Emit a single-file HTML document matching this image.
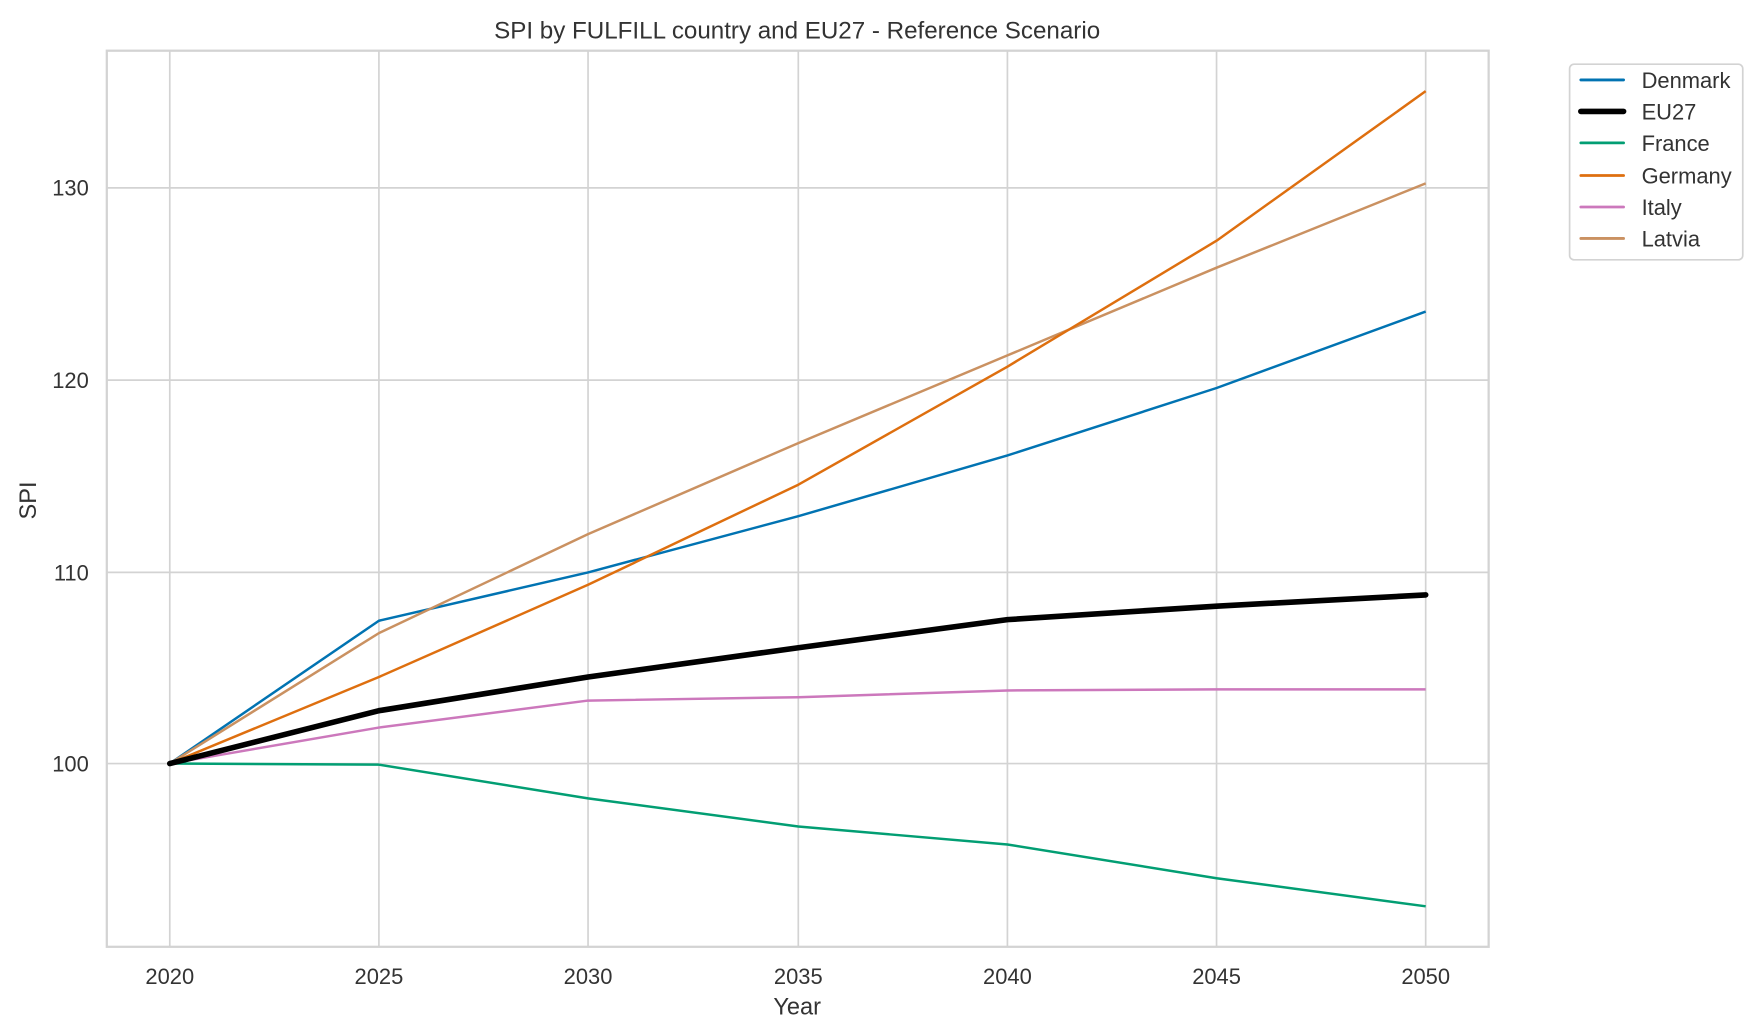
<!DOCTYPE html>
<html><head><meta charset="utf-8"><style>html,body{margin:0;padding:0;background:#fff;width:1754px;height:1020px;overflow:hidden}</style></head>
<body>
<svg width="1754" height="1020" viewBox="0 0 1560 907" xmlns="http://www.w3.org/2000/svg" font-family="Liberation Sans, sans-serif">
<rect width="1560" height="907" fill="#fff"/>
<g stroke="#d3d3d3" stroke-width="1.5">
<line x1="151" y1="45" x2="151" y2="842"/><line x1="337" y1="45" x2="337" y2="842"/><line x1="523" y1="45" x2="523" y2="842"/><line x1="710" y1="45" x2="710" y2="842"/><line x1="896" y1="45" x2="896" y2="842"/><line x1="1082" y1="45" x2="1082" y2="842"/><line x1="1268" y1="45" x2="1268" y2="842"/>
<line x1="95" y1="679" x2="1324" y2="679"/><line x1="95" y1="509" x2="1324" y2="509"/><line x1="95" y1="338" x2="1324" y2="338"/><line x1="95" y1="167" x2="1324" y2="167"/>
</g>
<rect x="95" y="45" width="1229" height="797" fill="none" stroke="#d3d3d3" stroke-width="2"/>
<g fill="none" stroke-width="2.2" stroke-linejoin="round">
<polyline stroke="#029e73" points="151,679 337,680 523,710 710,735 896,751 1082,781 1268,806"/>
<polyline stroke="#cc78bc" points="151,679 337,647 523,623 710,620 896,614 1082,613 1268,613"/>
<polyline stroke="#0173b2" points="151,679 337,552 523,509 710,459 896,405 1082,345 1268,277"/>
<polyline stroke="#ca9161" points="151,679 337,563 523,475 710,394 896,316 1082,238 1268,163"/>
<polyline stroke="#de6f0f" points="151,679 337,602 523,520 710,431 896,326 1082,214 1268,81"/>
<polyline stroke="#000" stroke-width="5" stroke-linecap="round" points="151,679 337,632 523,602 710,576 896,551 1082,539 1268,529"/>
</g>
<g font-size="19.5" fill="#333">
<text x="709" y="34" text-anchor="middle" font-size="21.5">SPI by FULFILL country and EU27 - Reference Scenario</text>
<g text-anchor="middle"><text x="151" y="875">2020</text><text x="337" y="875">2025</text><text x="523" y="875">2030</text><text x="710" y="875">2035</text><text x="896" y="875">2040</text><text x="1082" y="875">2045</text><text x="1268" y="875">2050</text>
<text x="709" y="902" font-size="21">Year</text></g>
<g text-anchor="end"><text x="79" y="686">100</text><text x="79" y="516">110</text><text x="79" y="345">120</text><text x="79" y="174">130</text></g>
<text transform="translate(32,445) rotate(-90)" text-anchor="middle" font-size="21">SPI</text>
</g>
<rect x="1396" y="57" width="154" height="174" rx="4" fill="#fff" stroke="#d3d3d3" stroke-width="1.5"/>
<g stroke-width="2.5" stroke-linecap="round">
<line x1="1406" y1="71" x2="1444" y2="71" stroke="#0173b2"/>
<line x1="1406" y1="99" x2="1444" y2="99" stroke="#000" stroke-width="5"/>
<line x1="1406" y1="127" x2="1444" y2="127" stroke="#029e73"/>
<line x1="1406" y1="156" x2="1444" y2="156" stroke="#de6f0f"/>
<line x1="1406" y1="184" x2="1444" y2="184" stroke="#cc78bc"/>
<line x1="1406" y1="212" x2="1444" y2="212" stroke="#ca9161"/>
</g>
<g font-size="19.5" fill="#333">
<text x="1460" y="78">Denmark</text><text x="1460" y="106">EU27</text><text x="1460" y="134">France</text><text x="1460" y="163">Germany</text><text x="1460" y="191">Italy</text><text x="1460" y="219">Latvia</text>
</g>
</svg>
</body></html>
